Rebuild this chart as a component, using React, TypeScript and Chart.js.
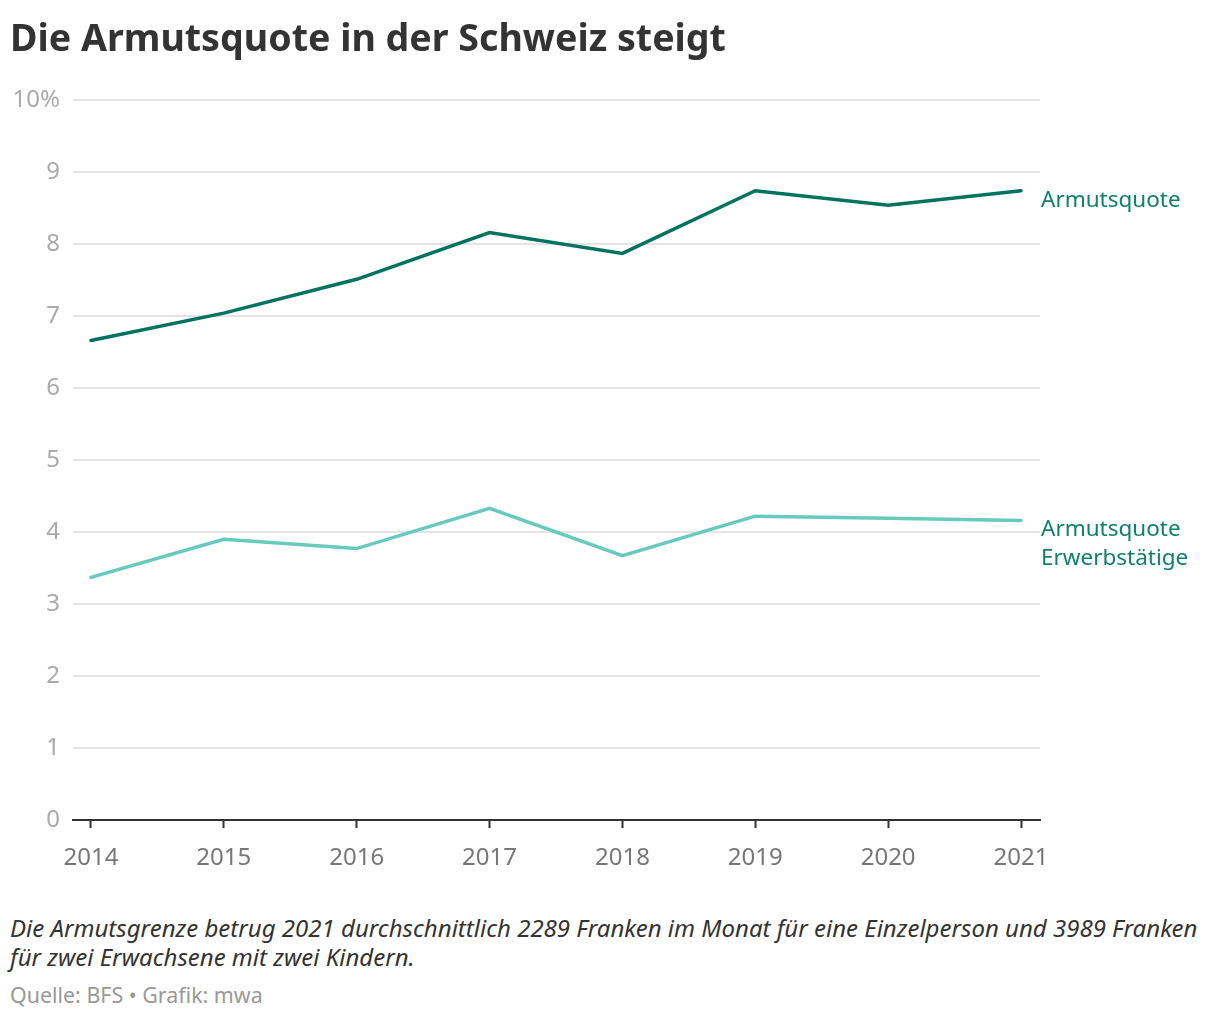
import { useEffect, useRef } from 'react';
import { Chart, registerables } from 'chart.js';

Chart.register(...registerables);

const years = [2014, 2015, 2016, 2017, 2018, 2019, 2020, 2021];
const armutsquote = [6.66, 7.04, 7.51, 8.16, 7.87, 8.74, 8.54, 8.74];
const armutsquoteErwerbstaetige = [3.37, 3.9, 3.77, 4.33, 3.67, 4.22, 4.19, 4.16];
const yTicks = [0, 1, 2, 3, 4, 5, 6, 7, 8, 9, 10];

const seriesLabels = [['Armutsquote'], ['Armutsquote', 'Erwerbstätige']];

const FONT = '"Noto Sans", sans-serif';
const DARK = '#00735f';
const LIGHT = '#66cbbd';
const LABEL = '#0f7f6f';

const endLabels = {
  id: 'endLabels',
  afterDatasetsDraw(chart: Chart) {
    const ctx = chart.ctx;
    ctx.save();
    ctx.font = `22.5px ${FONT}`;
    ctx.fillStyle = LABEL;
    ctx.textBaseline = 'alphabetic';
    ctx.textAlign = 'left';
    chart.data.datasets.forEach((_, i) => {
      const meta = chart.getDatasetMeta(i);
      const last = meta.data[meta.data.length - 1];
      if (!last) return;
      seriesLabels[i].forEach((line, j) => {
        ctx.fillText(line, last.x + 20, last.y + 16 + j * 29);
      });
    });
    ctx.restore();
  },
};

export default function App() {
  const canvasRef = useRef<HTMLCanvasElement>(null);

  useEffect(() => {
    if (!canvasRef.current) return;
    const chart = new Chart(canvasRef.current, {
      type: 'line',
      data: {
        datasets: [
          {
            label: 'Armutsquote',
            data: years.map((y, i) => ({ x: y, y: armutsquote[i] })),
            borderColor: DARK,
            borderWidth: 3.5,
            pointRadius: 0,
            tension: 0,
            borderCapStyle: 'round',
          },
          {
            label: 'Armutsquote Erwerbstätige',
            data: years.map((y, i) => ({ x: y, y: armutsquoteErwerbstaetige[i] })),
            borderColor: LIGHT,
            borderWidth: 3.5,
            pointRadius: 0,
            tension: 0,
            borderCapStyle: 'round',
          },
        ],
      },
      options: {
        animation: false,
        responsive: false,
        layout: { padding: { top: 100, right: 180, left: 0, bottom: 0 } },
        plugins: {
          legend: { display: false },
          tooltip: { enabled: false },
        },
        scales: {
          x: {
            type: 'linear',
            min: 2013.865,
            max: 2021.143,
            afterBuildTicks: (scale) => {
              scale.ticks = years.map((v) => ({ value: v }));
            },
            afterFit: (scale) => {
              scale.height = 80;
            },
            border: { display: true, color: '#333333', width: 2 },
            grid: {
              drawOnChartArea: false,
              drawTicks: true,
              tickLength: 8,
              tickColor: '#333333',
              tickWidth: 2,
            },
            ticks: {
              color: '#777777',
              font: { family: FONT, size: 24 },
              padding: 16,
              maxRotation: 0,
              autoSkip: false,
              callback: (v) => String(v),
            },
          },
          y: {
            min: 0,
            max: 10,
            afterBuildTicks: (scale) => {
              scale.ticks = yTicks.map((v) => ({ value: v }));
            },
            afterFit: (scale) => {
              scale.width = 73;
            },
            border: { display: false },
            grid: {
              color: '#e4e4e4',
              lineWidth: 2,
              drawTicks: false,
            },
            ticks: {
              color: '#aaaaaa',
              font: { family: FONT, size: 24 },
              padding: 13,
              callback: (v) => (v === 10 ? '10%' : String(v)),
            },
          },
        },
      },
      plugins: [endLabels],
    });
    return () => chart.destroy();
  }, []);

  const text = (top: number, size: number, extra: object) => ({
    position: 'absolute' as const,
    left: 10,
    top,
    margin: 0,
    fontFamily: FONT,
    fontSize: size,
    lineHeight: `${size}px`,
    whiteSpace: 'nowrap' as const,
    ...extra,
  });

  return (
    <div style={{ position: 'absolute', left: 0, top: 0, width: 1220, height: 1020, background: '#fff' }}>
      <canvas ref={canvasRef} width={1220} height={900} style={{ position: 'absolute', left: 0, top: 0 }} />
      <div style={text(18, 37.6, { fontWeight: 700, color: '#333333' })}>Die Armutsquote in der Schweiz steigt</div>
      <div style={text(913, 24, { fontStyle: 'italic', color: '#333333', lineHeight: '29px' })}>
        Die Armutsgrenze betrug 2021 durchschnittlich 2289 Franken im Monat für eine Einzelperson und 3989 Franken
        <br />
        für zwei Erwachsene mit zwei Kindern.
      </div>
      <div style={text(984, 21.4, { color: '#999999' })}>Quelle: BFS • Grafik: mwa</div>
    </div>
  );
}
